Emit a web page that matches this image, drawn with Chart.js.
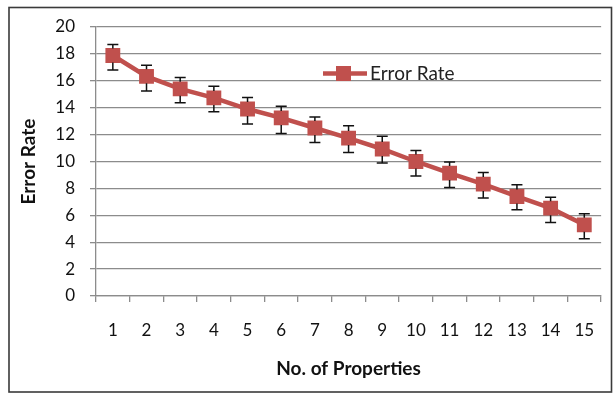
<!DOCTYPE html>
<html>
<head>
<meta charset="utf-8">
<script src="https://cdn.jsdelivr.net/npm/chart.js@4.4.0/dist/chart.umd.min.js"></script>
<style>
  html, body { margin: 0; padding: 0; background: #fff; }
  #wrap { width: 613px; height: 394px; }
</style>
</head>
<body>
<div id="wrap"><canvas id="chart" width="613" height="394"></canvas></div>
<script>
const properties = ['1', '2', '3', '4', '5', '6', '7', '8', '9', '10', '11', '12', '13', '14', '15'];
const errorRate = [17.88, 16.33, 15.4, 14.73, 13.9, 13.24, 12.49, 11.74, 10.93, 10.0, 9.14, 8.32, 7.4, 6.53, 5.29];
const errPlus = [0.82, 0.82, 0.84, 0.86, 0.86, 0.86, 0.82, 0.92, 0.94, 0.82, 0.82, 0.86, 0.87, 0.82, 0.82];
const errMinus = [1.07, 1.09, 1.04, 1.04, 1.12, 1.15, 1.07, 1.07, 1.04, 1.07, 1.07, 1.04, 0.99, 1.07, 1.04];
const yTicks = [0, 2, 4, 6, 8, 10, 12, 14, 16, 18, 20];

const RED = '#c0504d';
const GRID = '#8c8c8c';
const FONT = 'Lato, "Open Sans", sans-serif';

// white page with the dark frame round the chart
const frame = {
  id: 'frame',
  beforeDraw(chart) {
    const ctx = chart.ctx;
    ctx.save();
    ctx.fillStyle = '#fff';
    ctx.fillRect(0, 0, chart.width, chart.height);
    ctx.strokeStyle = '#3a3a3a';
    ctx.lineWidth = 1.6;
    ctx.strokeRect(9, 7.5, 602.5, 384.5);
    ctx.restore();
  }
};

// vertical error bars with caps, read from errPlus / errMinus
const errorBars = {
  id: 'errorBars',
  afterDatasetsDraw(chart) {
    const ctx = chart.ctx;
    const x = chart.scales.x, y = chart.scales.y;
    ctx.save();
    ctx.strokeStyle = '#111';
    ctx.lineWidth = 1.5;
    errorRate.forEach((v, i) => {
      const px = x.getPixelForValue(i);
      const top = y.getPixelForValue(v + errPlus[i]);
      const bot = y.getPixelForValue(v - errMinus[i]);
      const mid = y.getPixelForValue(v);
      ctx.beginPath();
      ctx.moveTo(px, top); ctx.lineTo(px, mid - 7);
      ctx.moveTo(px, mid + 7); ctx.lineTo(px, bot);
      ctx.moveTo(px - 5.5, top); ctx.lineTo(px + 5.5, top);
      ctx.moveTo(px - 5.5, bot); ctx.lineTo(px + 5.5, bot);
      ctx.stroke();
    });
    ctx.restore();
  }
};

// legend sitting inside the plot, like the original
const innerLegend = {
  id: 'innerLegend',
  afterDraw(chart) {
    const ctx = chart.ctx;
    const a = chart.chartArea;
    const ds = chart.data.datasets[0];
    const lx = a.left + 227, ly = a.top + 46.5;
    ctx.save();
    ctx.strokeStyle = RED;
    ctx.lineWidth = 4.5;
    ctx.beginPath();
    ctx.moveTo(lx, ly); ctx.lineTo(lx + 44, ly);
    ctx.stroke();
    ctx.fillStyle = RED;
    ctx.fillRect(lx + 13, ly - 7.5, 15, 15);
    ctx.fillStyle = '#222';
    ctx.font = '19px ' + FONT;
    ctx.textBaseline = 'middle';
    ctx.fillText(ds.label, lx + 47, ly + 0.5);
    ctx.restore();
  }
};

new Chart(document.getElementById('chart'), {
  type: 'line',
  data: {
    labels: properties,
    datasets: [{
      label: 'Error Rate',
      data: errorRate,
      borderColor: RED,
      backgroundColor: RED,
      borderWidth: 4.5,
      tension: 0,
      pointStyle: 'rect',
      pointRadius: 10.5,
      pointBorderWidth: 0,
      pointBackgroundColor: RED,
      pointBorderColor: RED
    }]
  },
  options: {
    responsive: false,
    animation: false,
    layout: { padding: { left: 0, right: 10, top: 27, bottom: 0 } },
    plugins: {
      legend: { display: false },
      tooltip: { enabled: false }
    },
    scales: {
      x: {
        offset: true,
        afterFit: (s) => { s.height = 98; },
        grid: {
          offset: true,
          drawOnChartArea: false,
          drawTicks: true,
          tickLength: 6,
          color: GRID,
          lineWidth: 1.3
        },
        border: { color: GRID, width: 1.3 },
        ticks: {
          color: '#111',
          padding: 18.5,
          maxRotation: 0,
          font: { family: FONT, size: 17 }
        },
        title: {
          display: true,
          text: 'No. of Properties',
          color: '#111',
          padding: { top: 0, bottom: 14 },
          font: { family: FONT, size: 19, weight: 'bold' }
        }
      },
      y: {
        min: 0,
        max: 20,
        afterFit: (s) => { s.width = 96; },
        afterBuildTicks: (s) => { s.ticks = yTicks.map(v => ({ value: v })); },
        grid: {
          color: GRID,
          lineWidth: 1.3,
          tickLength: 6
        },
        border: { color: GRID, width: 1.3 },
        ticks: {
          color: '#111',
          padding: 15,
          font: { family: FONT, size: 17 }
        },
        title: {
          display: true,
          text: 'Error Rate',
          color: '#111',
          padding: { top: 17, bottom: 0 },
          font: { family: FONT, size: 19, weight: 'bold' }
        }
      }
    }
  },
  plugins: [frame, errorBars, innerLegend]
});
</script>
</body>
</html>
